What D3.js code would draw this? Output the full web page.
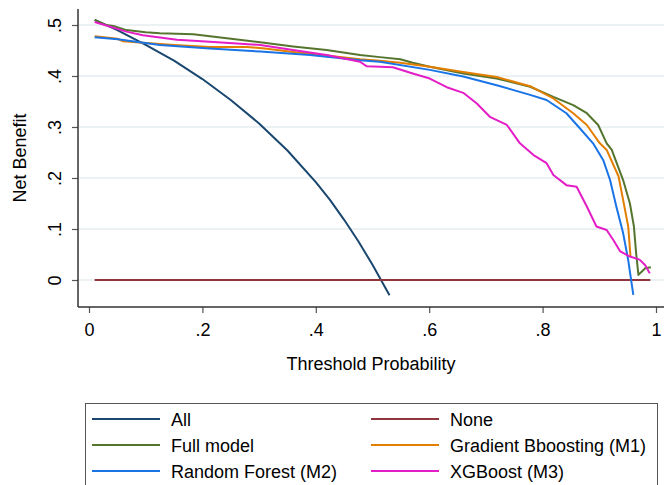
<!DOCTYPE html>
<html>
<head>
<meta charset="utf-8">
<script src="https://cdn.jsdelivr.net/npm/d3@7"></script>
<style>
  body { margin: 0; background: #fff; }
  text { font-family: "Liberation Sans", Arial, sans-serif; fill: #000; }
</style>
</head>
<body>
<svg id="chart" width="664" height="485"></svg>
<script>
// tick values
const xTicks = [0, 0.2, 0.4, 0.6, 0.8, 1];
const yTicks = [0, 0.1, 0.2, 0.3, 0.4, 0.5];

// treat all
const allPt = [0.01, 0.05, 0.10, 0.15, 0.20, 0.25, 0.30, 0.35, 0.40, 0.425, 0.45, 0.475, 0.50, 0.53];
const allNB = [0.510, 0.490, 0.461, 0.430, 0.394, 0.353, 0.307, 0.254, 0.192, 0.157, 0.118, 0.076, 0.030, -0.030];

// treat none
const nonePt = [0.01, 0.99];
const noneNB = [0, 0];

// full model
const fullPt = [0.01, 0.03, 0.043, 0.066, 0.10, 0.125, 0.184, 0.243, 0.302, 0.36, 0.419, 0.478, 0.513, 0.549, 0.571, 0.601, 0.66, 0.719, 0.778, 0.819, 0.854, 0.878, 0.898, 0.913, 0.922, 0.942, 0.954, 0.961, 0.965, 0.969, 0.981, 0.991];
const fullNB = [0.510, 0.500, 0.498, 0.490, 0.486, 0.484, 0.482, 0.474, 0.466, 0.458, 0.451, 0.441, 0.437, 0.433, 0.426, 0.418, 0.405, 0.395, 0.379, 0.359, 0.343, 0.327, 0.304, 0.268, 0.255, 0.196, 0.150, 0.105, 0.052, 0.010, 0.023, 0.025];

// gradient boosting (M1)
const gbPt = [0.01, 0.05, 0.06, 0.095, 0.15, 0.213, 0.279, 0.31, 0.36, 0.419, 0.478, 0.513, 0.549, 0.601, 0.66, 0.719, 0.778, 0.819, 0.854, 0.878, 0.901, 0.913, 0.934, 0.942, 0.951, 0.955];
const gbNB = [0.478, 0.473, 0.468, 0.465, 0.461, 0.457, 0.457, 0.454, 0.447, 0.440, 0.433, 0.430, 0.426, 0.418, 0.408, 0.398, 0.380, 0.356, 0.327, 0.304, 0.268, 0.255, 0.203, 0.157, 0.105, 0.046];

// random forest (M2)
const rfPt = [0.01, 0.051, 0.125, 0.213, 0.302, 0.39, 0.478, 0.513, 0.601, 0.66, 0.719, 0.778, 0.807, 0.842, 0.866, 0.889, 0.907, 0.919, 0.930, 0.942, 0.951, 0.960];
const rfNB = [0.476, 0.472, 0.461, 0.454, 0.448, 0.441, 0.431, 0.428, 0.412, 0.399, 0.382, 0.363, 0.353, 0.327, 0.297, 0.268, 0.235, 0.196, 0.144, 0.092, 0.039, -0.029];

// xgboost (M3)
const xgbPt = [0.01, 0.066, 0.095, 0.155, 0.213, 0.302, 0.36, 0.419, 0.478, 0.49, 0.536, 0.571, 0.601, 0.631, 0.66, 0.684, 0.707, 0.737, 0.76, 0.784, 0.807, 0.819, 0.842, 0.86, 0.878, 0.895, 0.913, 0.925, 0.937, 0.954, 0.971, 0.981, 0.989];
const xgbNB = [0.506, 0.487, 0.480, 0.471, 0.467, 0.461, 0.451, 0.441, 0.428, 0.419, 0.417, 0.405, 0.395, 0.378, 0.367, 0.346, 0.320, 0.304, 0.268, 0.245, 0.229, 0.206, 0.186, 0.183, 0.144, 0.105, 0.098, 0.078, 0.056, 0.046, 0.040, 0.029, 0.013];

const seriesNames = ["All", "None", "Full model", "Gradient Bboosting (M1)", "Random Forest (M2)", "XGBoost (M3)"];
const seriesColors = ["#1a476f", "#90353b", "#55752f", "#e37e00", "#1a74e6", "#e31ec6"];
const seriesPts = [allPt, nonePt, fullPt, gbPt, rfPt, xgbPt];
const seriesVals = [allNB, noneNB, fullNB, gbNB, rfNB, xgbNB];

const svg = d3.select("#chart");
svg.append("rect").attr("width", 664).attr("height", 485).attr("fill", "#fff");

const x = d3.scaleLinear().domain([0, 1]).range([89, 656]);
const y = d3.scaleLinear().domain([0, 0.5]).range([280, 25]);
const plotL = 78, plotR = 664, plotT = 9, plotB = 307;

const fmt = d => d === 0 ? "0" : d === 1 ? "1" : d3.format(".1f")(d).replace(/^0/, "");

// grid lines
svg.append("g")
  .selectAll("line")
  .data(yTicks)
  .join("line")
  .attr("x1", plotL).attr("x2", plotR)
  .attr("y1", d => y(d)).attr("y2", d => y(d))
  .attr("stroke", "#e6edf1")
  .attr("stroke-width", 1.6);

// y axis
const yAxis = svg.append("g")
  .attr("transform", `translate(${plotL},0)`)
  .call(d3.axisLeft(y).tickValues(yTicks).tickFormat(fmt).tickSize(6).tickSizeOuter(0));
yAxis.select(".domain").remove();
yAxis.selectAll(".tick line").attr("stroke", "#555").attr("stroke-width", 1.2);
yAxis.selectAll(".tick text")
  .attr("transform", "rotate(-90)")
  .attr("x", 0).attr("y", -17).attr("dy", 0)
  .attr("text-anchor", "middle")
  .style("font-size", "18px");

// x axis
const xAxis = svg.append("g")
  .attr("transform", `translate(0,${plotB})`)
  .call(d3.axisBottom(x).tickValues(xTicks).tickFormat(fmt).tickSize(6).tickSizeOuter(0));
xAxis.select(".domain").remove();
xAxis.selectAll(".tick line").attr("stroke", "#555").attr("stroke-width", 1.2);
xAxis.selectAll(".tick text")
  .attr("y", 29).attr("dy", 0)
  .style("font-size", "18px");

// axis lines
svg.append("line").attr("x1", plotL).attr("x2", plotL).attr("y1", plotT).attr("y2", plotB)
  .attr("stroke", "#333").attr("stroke-width", 1.5);
svg.append("line").attr("x1", plotL).attr("x2", plotR).attr("y1", plotB).attr("y2", plotB)
  .attr("stroke", "#333").attr("stroke-width", 1.5);

// axis titles
svg.append("text")
  .attr("transform", `translate(25.5,${(plotT + plotB) / 2}) rotate(-90)`)
  .attr("text-anchor", "middle")
  .style("font-size", "18px")
  .text("Net Benefit");
svg.append("text")
  .attr("x", (plotL + plotR) / 2).attr("y", 370)
  .attr("text-anchor", "middle")
  .style("font-size", "18px")
  .text("Threshold Probability");

// curves
const line = d3.line().x(d => x(d[0])).y(d => y(d[1]));
svg.append("g")
  .attr("fill", "none")
  .selectAll("path")
  .data(seriesNames.map((n, i) => ({
    name: n, color: seriesColors[i],
    pts: seriesPts[i].map((p, j) => [p, seriesVals[i][j]])
  })))
  .join("path")
  .attr("d", d => line(d.pts))
  .attr("stroke", d => d.color)
  .attr("stroke-width", 2)
  .attr("stroke-linejoin", "round");

// legend
const lg = svg.append("g");
lg.append("rect")
  .attr("x", 85.5).attr("y", 403.5).attr("width", 572).attr("height", 90)
  .attr("fill", "#fff").attr("stroke", "#555").attr("stroke-width", 1);
const item = lg.selectAll("g.item")
  .data(seriesNames.map((n, i) => ({name: n, color: seriesColors[i], col: i % 2, row: Math.floor(i / 2)})))
  .join("g")
  .attr("class", "item")
  .attr("transform", d => `translate(${d.col ? 371 : 92},${419 + d.row * 26})`);
item.append("line")
  .attr("x1", 0).attr("x2", 68).attr("y1", 0).attr("y2", 0)
  .attr("stroke", d => d.color).attr("stroke-width", 2);
item.append("text")
  .attr("x", 79).attr("y", 6.5)
  .style("font-size", "18px")
  .text(d => d.name);
</script>
</body>
</html>
